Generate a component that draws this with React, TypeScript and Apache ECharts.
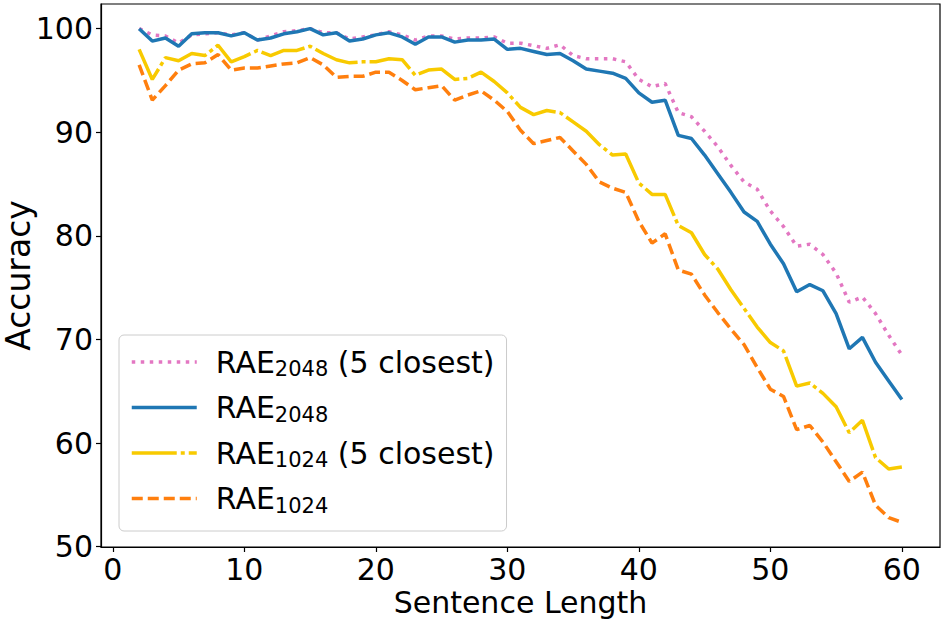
import React, { useEffect, useRef } from "react";
import * as echarts from "echarts";

const lengths: number[] = [];
for (let i = 2; i <= 60; i++) lengths.push(i);

const rae2048Closest = [
  100.0, 99.4, 99.3, 98.6, 99.4, 99.5, 99.6, 99.4, 99.6, 98.9, 99.3, 99.7, 99.8, 100.0,
  99.6, 99.6, 99.0, 99.2, 99.4, 99.7, 99.4, 98.9, 99.3, 99.3, 99.0, 99.1, 99.1, 99.2,
  98.6, 98.6, 98.35, 98.1, 98.45, 97.4, 97.1, 97.1, 97.1, 96.8, 95.1, 94.4, 94.7, 91.9,
  91.5, 90.1, 88.6, 86.8, 85.2, 84.5, 82.4, 80.9, 79.0, 79.2, 78.2, 76.4, 73.6, 74.1,
  72.5, 70.4, 68.5,
];

const rae2048 = [
  100.0, 98.8, 99.1, 98.3, 99.5, 99.6, 99.6, 99.3, 99.6, 98.9, 99.1, 99.5, 99.7, 100.0,
  99.4, 99.6, 98.8, 99.0, 99.4, 99.6, 99.2, 98.5, 99.2, 99.2, 98.7, 98.9, 98.9, 99.0,
  98.0, 98.1, 97.8, 97.5, 97.6, 96.9, 96.1, 95.9, 95.7, 95.2, 93.8, 92.9, 93.1, 89.7,
  89.4, 87.8, 86.0, 84.2, 82.3, 81.4, 79.2, 77.3, 74.6, 75.3, 74.7, 72.5, 69.1, 70.2,
  67.8, 66.0, 64.2,
];

const rae1024Closest = [
  98.0, 95.1, 97.2, 96.9, 97.6, 97.4, 98.4, 96.8, 97.3, 97.9, 97.4, 97.9, 97.9, 98.3,
  97.6, 97.0, 96.7, 96.8, 96.8, 97.1, 97.0, 95.5, 96.0, 96.1, 95.1, 95.2, 95.8, 94.9,
  93.8, 92.4, 91.7, 92.1, 91.9, 91.0, 90.1, 88.8, 87.8, 87.9, 85.1, 84.0, 84.0, 81.0,
  80.3, 78.2, 76.8, 74.8, 73.0, 71.2, 69.7, 68.9, 65.5, 65.8, 64.8, 63.5, 61.0, 62.2,
  58.6, 57.5, 57.7,
];

const rae1024 = [
  96.5, 93.1, 94.5, 96.0, 96.6, 96.7, 97.5, 96.0, 96.2, 96.2, 96.4, 96.6, 96.7, 97.2,
  96.5, 95.3, 95.4, 95.4, 95.8, 95.8, 95.0, 94.1, 94.3, 94.5, 93.1, 93.6, 94.0, 93.1,
  92.0, 90.2, 88.9, 89.2, 89.5, 88.2, 86.9, 85.2, 84.6, 84.2, 81.4, 79.3, 80.2, 76.7,
  76.3, 74.3, 72.6, 71.0, 69.5, 67.3, 65.2, 64.5, 61.3, 61.7, 60.1, 58.2, 56.3, 57.2,
  54.0, 52.8, 52.35,
];

const xTicks = [0, 10, 20, 30, 40, 50, 60];
const yTicks = [50, 60, 70, 80, 90, 100];

const seriesNames = ["RAE2048 (5 closest)", "RAE2048", "RAE1024 (5 closest)", "RAE1024"];

const FONT = "DejaVu Sans";
const FS = 30;

function pair(vals: number[]) {
  return lengths.map((x, i) => [x, vals[i]]);
}

export default function App() {
  const ref = useRef<HTMLDivElement>(null);
  useEffect(() => {
    if (!ref.current) return;
    const chart = echarts.init(ref.current, null, { renderer: "svg" });
    const lw = 3.5;
    chart.setOption({
      animation: false,
      backgroundColor: "#ffffff",
      grid: {
        left: 101,
        right: 4,
        top: 4,
        bottom: 73,
        containLabel: false,
        outerBoundsMode: "none",
        show: true,
        borderColor: "#000000",
        borderWidth: 1.2,
        backgroundColor: "transparent",
      },
      xAxis: {
        type: "value",
        min: -0.9,
        max: 62.9,
        name: "Sentence Length",
        nameLocation: "middle",
        nameGap: 40,
        nameMoveOverlap: false,
        nameTextStyle: { fontFamily: FONT, fontSize: FS, lineHeight: 30, color: "#000" },
        axisLine: { show: true, onZero: false, lineStyle: { color: "#000", width: 1.2 } },
        axisTick: { show: true, length: 5, customValues: xTicks, lineStyle: { color: "#000", width: 1.2 } },
        axisLabel: { customValues: xTicks, fontFamily: FONT, fontSize: FS, lineHeight: 30, color: "#000", margin: 7 },
        splitLine: { show: false },
      },
      yAxis: {
        type: "value",
        min: 49.97,
        max: 102.38,
        name: "Accuracy",
        nameLocation: "middle",
        nameGap: 67,
        nameMoveOverlap: false,
        nameTextStyle: { fontFamily: FONT, fontSize: 33, lineHeight: 32, color: "#000" },
        axisLine: { show: true, onZero: false, lineStyle: { color: "#000", width: 1.2 } },
        axisTick: { show: true, length: 5, customValues: yTicks, lineStyle: { color: "#000", width: 1.2 } },
        axisLabel: { customValues: yTicks, fontFamily: FONT, fontSize: FS, color: "#000", margin: 8 },
        splitLine: { show: false },
      },
      legend: {
        orient: "vertical",
        left: 119,
        top: 335,
        data: seriesNames,
        itemWidth: 65,
        itemHeight: 14,
        itemGap: 13,
        padding: [12, 12, 15, 11],
        backgroundColor: "rgba(255,255,255,0.8)",
        borderColor: "#cccccc",
        borderWidth: 1,
        borderRadius: 5,
        itemStyle: { opacity: 0 },
        lineStyle: { width: 3.5 },
        formatter: (name: string) => {
          const m = name.match(/^RAE(\d+)(.*)$/);
          if (!m) return name;
          return "{a|RAE}{b|" + m[1] + "}" + (m[2] ? "{a|" + m[2] + "}" : "");
        },
        textStyle: {
          fontFamily: FONT,
          color: "#000",
          padding: [0, 0, 0, 14],
          rich: {
            a: { fontFamily: FONT, fontSize: FS, lineHeight: 35, color: "#000" },
            b: { fontFamily: FONT, fontSize: 21, lineHeight: 18, verticalAlign: "bottom", color: "#000" },
          },
        },
      },
      series: [
        {
          name: seriesNames[0],
          type: "line",
          data: pair(rae2048Closest),
          symbol: "none",
          showSymbol: false,
          lineStyle: { color: "#e377c2", width: lw, type: [3.5, 5.5] },
          itemStyle: { color: "#e377c2" },
        },
        {
          name: seriesNames[1],
          type: "line",
          data: pair(rae2048),
          symbol: "none",
          showSymbol: false,
          lineStyle: { color: "#1f77b4", width: lw, type: "solid" },
          itemStyle: { color: "#1f77b4" },
        },
        {
          name: seriesNames[2],
          type: "line",
          data: pair(rae1024Closest),
          symbol: "none",
          showSymbol: false,
          lineStyle: { color: "#f8ca00", width: lw, type: [45, 4, 4, 4] },
          itemStyle: { color: "#f8ca00" },
        },
        {
          name: seriesNames[3],
          type: "line",
          data: pair(rae1024),
          symbol: "none",
          showSymbol: false,
          lineStyle: { color: "#ff7f0e", width: lw, type: [11, 5] },
          itemStyle: { color: "#ff7f0e" },
        },
      ],
    });
    return () => chart.dispose();
  }, []);
  return (
    <div
      ref={ref}
      style={{ position: "fixed", left: 0, top: 0, width: 944, height: 620, background: "#fff" }}
    />
  );
}
